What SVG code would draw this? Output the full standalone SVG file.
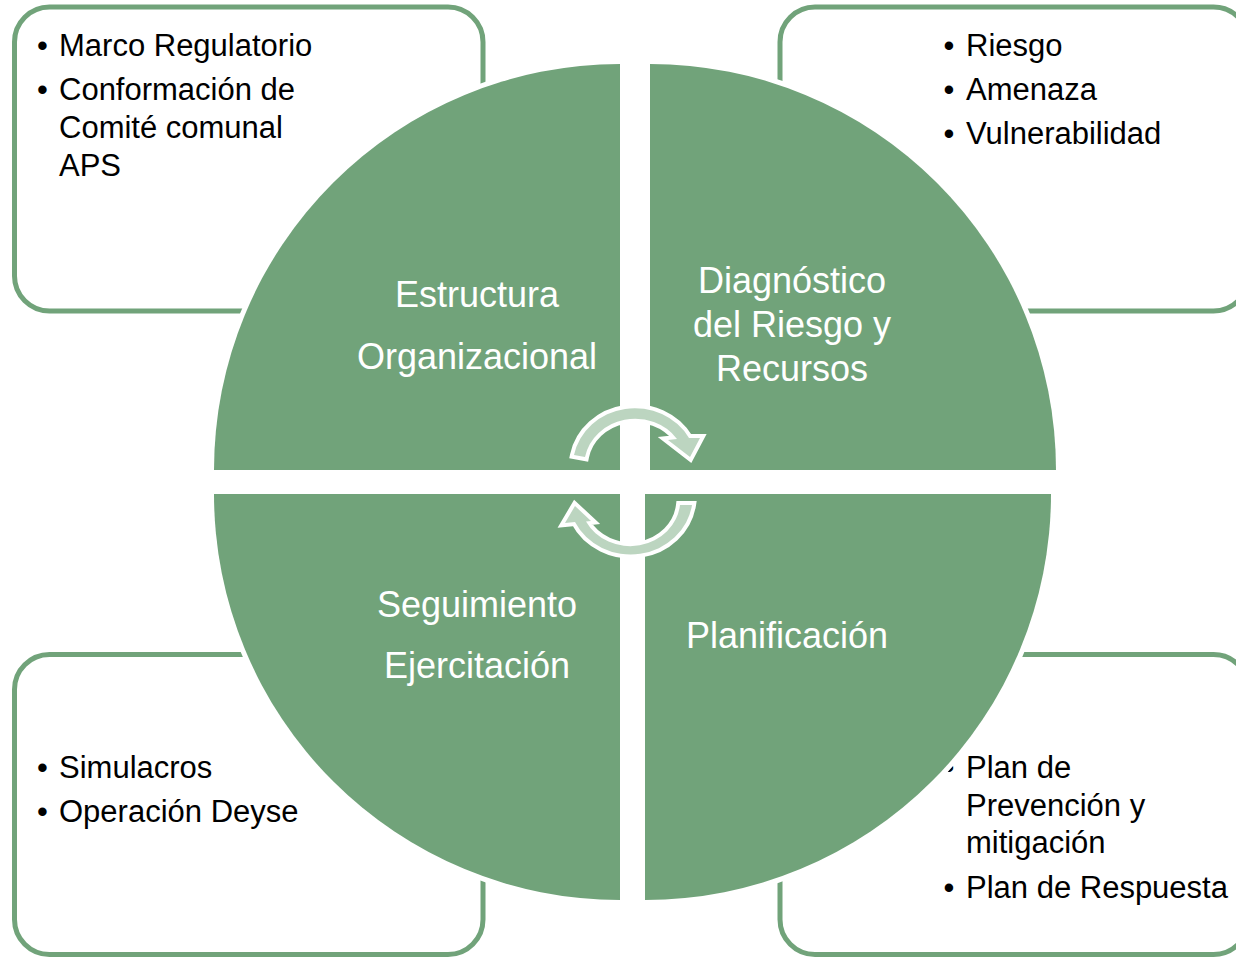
<svg xmlns="http://www.w3.org/2000/svg" width="1236" height="957" viewBox="0 0 1236 957">
<style>
.box{fill:#fff;stroke:#71a37a;stroke-width:5}
.bt{font-family:"Liberation Sans",Arial,sans-serif;font-size:31px;fill:#000}
.q{fill:#71a37a;stroke:#fff;stroke-width:10;paint-order:stroke}
.qt{font-family:"Liberation Sans",Arial,sans-serif;font-size:36px;fill:#fff;text-anchor:middle}
.arr{fill:#bcd5c0;stroke:#fff;stroke-width:8;stroke-linejoin:miter;paint-order:stroke}
</style>
<rect width="1236" height="957" fill="#fff"/>
<g id="box-tl">
<rect class="box" x="14.5" y="7" width="468.5" height="304" rx="35"/>
<text class="bt" x="37" y="56">•</text><text class="bt" x="59" y="56">Marco Regulatorio</text>
<text class="bt" x="37" y="100">•</text><text class="bt" x="59" y="100">Conformación de</text>
<text class="bt" x="59" y="138">Comité comunal</text>
<text class="bt" x="59" y="176">APS</text>
</g>
<g id="box-tr">
<rect class="box" x="780" y="7" width="468.5" height="304" rx="35"/>
<text class="bt" x="943.5" y="56">•</text><text class="bt" x="966" y="56">Riesgo</text>
<text class="bt" x="943.5" y="100">•</text><text class="bt" x="966" y="100">Amenaza</text>
<text class="bt" x="943.5" y="144">•</text><text class="bt" x="966" y="144">Vulnerabilidad</text>
</g>
<g id="box-bl">
<rect class="box" x="14.5" y="654.5" width="468.5" height="300" rx="35"/>
<text class="bt" x="37" y="778">•</text><text class="bt" x="59" y="778">Simulacros</text>
<text class="bt" x="37" y="822">•</text><text class="bt" x="59" y="822">Operación Deyse</text>
</g>
<g id="box-br">
<rect class="box" x="780" y="654.5" width="468.5" height="300" rx="35"/>
<text class="bt" x="943.5" y="778">•</text><text class="bt" x="966" y="778">Plan de</text>
<text class="bt" x="966" y="816">Prevención y</text>
<text class="bt" x="966" y="853">mitigación</text>
<text class="bt" x="943.5" y="898">•</text><text class="bt" x="966" y="898">Plan de Respuesta</text>
</g>
<g id="q-estructura">
<path class="q" d="M620 470 L214 470 A406 406 0 0 1 620 64 Z"/>
<text class="qt" x="477" y="307">Estructura</text>
<text class="qt" x="477" y="369">Organizacional</text>
</g>
<g id="q-diagnostico">
<path class="q" d="M650 470 L650 64 A406 406 0 0 1 1056 470 Z"/>
<text class="qt" x="792" y="293">Diagnóstico</text>
<text class="qt" x="792" y="337">del Riesgo y</text>
<text class="qt" x="792" y="381">Recursos</text>
</g>
<g id="q-planificacion">
<path class="q" d="M645 494 L1051 494 A406 406 0 0 1 645 900 Z"/>
<text class="qt" x="787" y="648">Planificación</text>
</g>
<g id="q-seguimiento">
<path class="q" d="M620 494 L620 900 A406 406 0 0 1 214 494 Z"/>
<text class="qt" x="477" y="617">Seguimiento</text>
<text class="qt" x="477" y="678">Ejercitación</text>
</g>
<g id="connectors">
<path class="arr" d="M574 455 A62 58 0 0 1 689 438 L700 438 L690 457 L668 440 L677 439 A51 47 0 0 0 585 457 Z"/>
<path class="arr" d="M692 505 A62 58 0 0 1 575 522 L565 523 L575 506 L591 521 L586 521.5 A50 46 0 0 0 680 505 Z"/>
</g>
</svg>
